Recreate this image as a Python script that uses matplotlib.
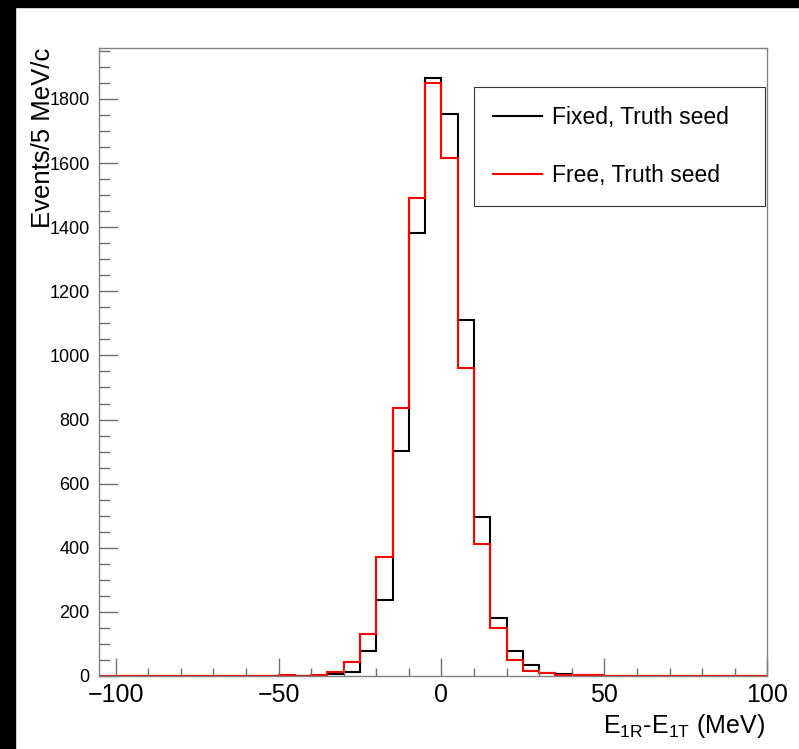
import numpy as np
import matplotlib.pyplot as plt
from matplotlib.patches import Rectangle
from matplotlib.ticker import MultipleLocator

plt.rcParams['font.family'] = ['Liberation Sans', 'DejaVu Sans']

# 5 MeV bins from -105 to 100 (41 bins)
bin_edges = np.arange(-105, 101, 5)

fixed_counts = [0, 0, 0, 0, 0, 0, 0, 0, 0, 0, 0, 1, 1, 1, 7, 11, 79, 237, 703, 1381,
                1866, 1752, 1109, 497, 182, 79, 34, 10, 5, 4, 2, 1, 1,
                0, 0, 0, 0, 0, 0, 0, 0]
free_counts = [0, 0, 0, 0, 0, 0, 1, 1, 1, 1, 1, 2, 1, 2, 12, 44, 130, 370, 836, 1490,
               1849, 1616, 960, 412, 151, 51, 17, 10, 3, 2, 2, 1, 1,
               1, 0, 0, 1, 1, 0, 1, 1]

fig = plt.figure(figsize=(7.99, 7.49), dpi=100)
ax = fig.add_axes([99.3 / 799, 1 - 676 / 749, (767.3 - 99.3) / 799, (676 - 48.3) / 749])

ax.stairs(fixed_counts, bin_edges, color='black', lw=1.5, label='Fixed, Truth seed')
ax.stairs(free_counts, bin_edges, color='red', lw=1.5, label='Free, Truth seed')

ax.set_xlim(-105, 100)
ax.set_ylim(0, 1958)

ax.xaxis.set_major_locator(MultipleLocator(50))
ax.xaxis.set_minor_locator(MultipleLocator(10))
ax.yaxis.set_major_locator(MultipleLocator(200))
ax.yaxis.set_minor_locator(MultipleLocator(50))

for s in ax.spines.values():
    s.set_color('#808080')
    s.set_linewidth(1.0)

ax.tick_params(axis='both', which='both', direction='in', color='#707070', width=1.0,
               top=False, right=False)
ax.tick_params(axis='x', which='major', length=13, labelsize=18, pad=5)
ax.tick_params(axis='x', which='minor', length=6)
ax.tick_params(axis='y', which='major', length=14, labelsize=13, pad=7)
ax.tick_params(axis='y', which='minor', length=8)

fig.text(765 / 799, 1 - 733 / 749, r'E$_{\mathregular{1R}}$-E$_{\mathregular{1T}}$ (MeV)',
         ha='right', va='baseline', fontsize=18)
fig.text(43 / 799, 1 - 48 / 749, 'Events/5 MeV/c', rotation=90,
         ha='center', va='top', fontsize=18.5)

leg = ax.legend(loc='upper left', bbox_to_anchor=(474 / 799, 1 - 87 / 749, 291 / 799, 0),
                bbox_transform=fig.transFigure, mode='expand', fontsize=16.5,
                frameon=True, fancybox=False, borderpad=0.85, labelspacing=1.5,
                handlelength=2.1, handletextpad=0.45, borderaxespad=0)
leg.get_frame().set_edgecolor('black')
leg.get_frame().set_linewidth(0.8)
for h in leg.get_lines():
    h.set_linewidth(1.5)

# black bands at the top and left edge of the original picture
fig.patches.append(Rectangle((0, 1 - 7 / 749), 1, 7 / 749, transform=fig.transFigure,
                             color='black', zorder=10))
fig.patches.append(Rectangle((0, 0), 15 / 799, 1, transform=fig.transFigure,
                             color='black', zorder=10))

fig.savefig('out.png', dpi=100)
